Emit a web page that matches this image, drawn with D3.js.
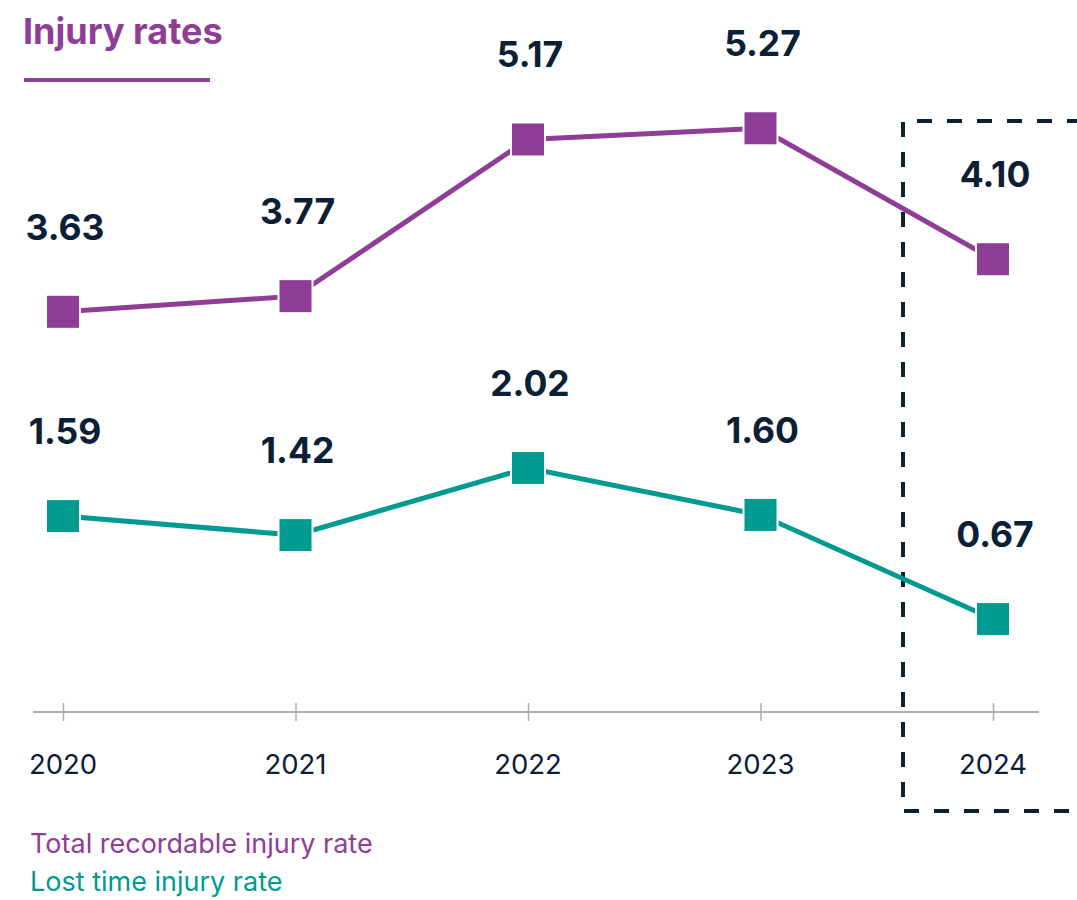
<!DOCTYPE html>
<html>
<head>
<meta charset="utf-8">
<script src="https://cdn.jsdelivr.net/npm/d3@7"></script>
<style>
  body { margin: 0; background: #fff; }
  svg { display: block; font-family: Inter, "Noto Sans", sans-serif; }
</style>
</head>
<body>
<svg width="1077" height="900"></svg>
<script>
var years = ["2020", "2021", "2022", "2023", "2024"];
var trir = [3.63, 3.77, 5.17, 5.27, 4.10];
var ltir = [1.59, 1.42, 2.02, 1.60, 0.67];
var seriesNames = ["Total recordable injury rate", "Lost time injury rate"];

var purple = "#8e3e96",
  teal = "#009a90",
  navy = "#0b2035";

var svg = d3.select("svg");

var x = d3.scalePoint().domain(years).range([63, 993]);

// both lines share the same units per pixel, but sit on their own baselines
var yTrir = d3.scaleLinear().domain([0, 6]).range([718, 718 - 6 * 111.9]);
var yLtir = d3.scaleLinear().domain([0, 6]).range([694, 694 - 6 * 111.9]);

// title
svg.append("text")
  .attr("x", 23)
  .attr("y", 44)
  .attr("fill", purple)
  .attr("font-size", 36)
  .attr("font-weight", 700)
  .text("Injury rates");

svg.append("rect")
  .attr("x", 24)
  .attr("y", 78)
  .attr("width", 186)
  .attr("height", 4)
  .attr("fill", purple);

// x axis
var axis = svg.append("g")
  .attr("transform", "translate(0,712)")
  .call(d3.axisBottom(x).tickSize(0).tickFormat(""));
axis.select(".domain")
  .attr("d", "M33,0H1039")
  .attr("stroke", "#a9b0b7")
  .attr("stroke-width", 2);
axis.selectAll(".tick line")
  .attr("y1", -9)
  .attr("y2", 9)
  .attr("stroke", "#a9b0b7")
  .attr("stroke-width", 1.5);

svg.append("g")
  .selectAll("text")
  .data(years)
  .enter()
  .append("text")
  .attr("x", function (d) { return x(d); })
  .attr("y", 774)
  .attr("text-anchor", "middle")
  .attr("fill", navy)
  .attr("font-size", 27.5)
  .text(function (d) { return d; });

// dashed highlight box round 2024
svg.append("path")
  .attr("d", "M1077,121H903V811H1077")
  .attr("fill", "none")
  .attr("stroke", navy)
  .attr("stroke-width", 4)
  .attr("stroke-dasharray", "15,15")
  .attr("stroke-dashoffset", 5);

function drawSeries(values, y, color) {
  var pts = values.map(function (v, i) { return [x(years[i]), y(v)]; });
  var g = svg.append("g");

  g.append("path")
    .datum(pts)
    .attr("fill", "none")
    .attr("stroke", color)
    .attr("stroke-width", 5)
    .attr("d", d3.line());

  g.selectAll("rect")
    .data(pts)
    .enter()
    .append("rect")
    .attr("x", function (d) { return d[0] - 16; })
    .attr("y", function (d) { return d[1] - 16; })
    .attr("width", 32)
    .attr("height", 32)
    .attr("fill", color)
    .attr("stroke", "#fff")
    .attr("stroke-width", 4)
    .attr("paint-order", "stroke");

  g.selectAll("text")
    .data(values)
    .enter()
    .append("text")
    .attr("x", function (d, i) { return x(years[i]) + 2; })
    .attr("y", function (d) { return y(d) - 72; })
    .attr("text-anchor", "middle")
    .attr("fill", navy)
    .attr("font-size", 35.5)
    .attr("font-weight", 700)
    .text(function (d) { return d.toFixed(2); });
}

drawSeries(trir, yTrir, purple);
drawSeries(ltir, yLtir, teal);

// legend
svg.append("g")
  .selectAll("text")
  .data(seriesNames)
  .enter()
  .append("text")
  .attr("x", 30)
  .attr("y", function (d, i) { return 853 + i * 38; })
  .attr("fill", function (d, i) { return i ? teal : purple; })
  .attr("font-size", 27)
  .text(function (d) { return d; });
</script>
</body>
</html>
